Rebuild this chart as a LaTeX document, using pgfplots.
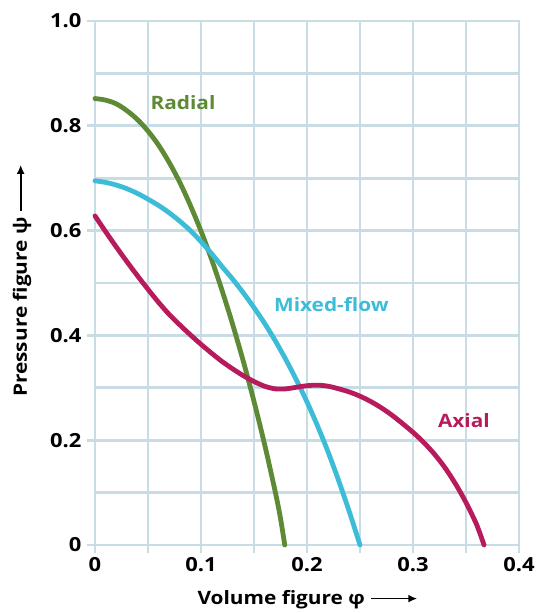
\documentclass[border=0pt]{standalone}
\usepackage{pgfplots}
\pgfplotsset{compat=1.18}
\usepackage{fontspec}
\setmainfont{Open Sans}[FakeStretch=1.13]
\usetikzlibrary{arrows.meta}
\definecolor{gridc}{HTML}{C8DCE6}
\definecolor{radc}{HTML}{5E8A36}
\definecolor{mixc}{HTML}{3DBCD8}
\definecolor{axc}{HTML}{B81B5C}
\newcommand{\longarr}{\tikz[baseline=-0.62ex]\draw[line width=1.8pt,-{Latex[length=9pt,width=8pt]}] (0,0)--(46bp,0);}
\begin{document}
\begin{tikzpicture}
\begin{axis}[
  name=main,
  scale only axis,
  width=424bp, height=524bp,
  xmin=0, xmax=0.4, ymin=0, ymax=1.0,
  xtick={0,0.05,...,0.41},
  xticklabels={0,,0.1,,0.2,,0.3,,0.4},
  ytick={0,0.2,0.4,0.6,0.8,1.0},
  yticklabels={0,0.2,0.4,0.6,0.8,1.0},
  minor ytick={0.1,0.3,0.5,0.7,0.9},
  grid=both,
  major grid style={gridc, line width=2.8bp},
  minor grid style={gridc, line width=2.8bp},
  axis line style={gridc, line width=2.8bp},
  tick style={gridc, line width=2.8bp},
  major tick length=8bp,
  minor tick length=0pt,
  tick align=outside,
  xtick pos=bottom, ytick pos=left,
  tick label style={font=\fontsize{19.5}{19.5}\selectfont\bfseries},
  /pgf/number format/assume math mode=true,
  xticklabel style={yshift=-1bp},
  yticklabel style={xshift=-2bp},
  xlabel={Volume figure φ \longarr},
  ylabel={Pressure figure ψ \longarr},
  label style={font=\fontsize{18.5}{18.5}\selectfont\bfseries},
  xlabel style={at={(axis description cs:0.502,0)}, anchor=center, yshift=-55bp},
  ylabel style={at={(axis description cs:-0.172,0.505)}, anchor=center},
  clip=false,
]
\addplot[radc, line width=4.8bp, smooth, line cap=round] coordinates {
(0,0.852) (0.01,0.849) (0.02,0.842) (0.03,0.829) (0.04,0.812) (0.05,0.790)
(0.06,0.763) (0.07,0.730) (0.08,0.692) (0.09,0.648) (0.10,0.599) (0.11,0.545)
(0.12,0.485) (0.13,0.420) (0.14,0.350) (0.15,0.274) (0.16,0.192) (0.17,0.102)
(0.175,0.051) (0.179,0.0)
};
\addplot[mixc, line width=4.8bp, smooth, line cap=round] coordinates {
(0,0.695) (0.01,0.692) (0.02,0.687) (0.03,0.680) (0.04,0.671) (0.05,0.660)
(0.06,0.648) (0.07,0.634) (0.08,0.618) (0.09,0.600) (0.10,0.579) (0.11,0.556)
(0.12,0.531) (0.13,0.507) (0.14,0.481) (0.15,0.453) (0.16,0.423) (0.17,0.390)
(0.18,0.354) (0.19,0.315) (0.20,0.273) (0.21,0.227) (0.22,0.177) (0.23,0.122)
(0.24,0.063) (0.25,0.0)
};
\addplot[axc, line width=4.8bp, smooth, line cap=round] coordinates {
(0,0.628) (0.01,0.598) (0.02,0.569) (0.03,0.541) (0.04,0.514) (0.05,0.488)
(0.06,0.463) (0.07,0.440) (0.08,0.420) (0.09,0.401) (0.10,0.383) (0.11,0.366)
(0.12,0.350) (0.13,0.336) (0.14,0.323) (0.15,0.312) (0.16,0.303) (0.17,0.298)
(0.18,0.298) (0.19,0.301) (0.20,0.304) (0.21,0.305) (0.22,0.303) (0.23,0.298)
(0.24,0.292) (0.25,0.284) (0.26,0.274) (0.27,0.262) (0.28,0.248) (0.29,0.232)
(0.30,0.215) (0.31,0.196) (0.32,0.174) (0.33,0.148) (0.34,0.117) (0.35,0.081)
(0.36,0.039) (0.367,0.0)
};
\node[radc, font=\fontsize{18.5}{18.5}\selectfont\bfseries] at (axis cs:0.083,0.844) {Radial};
\node[mixc, font=\fontsize{18.5}{18.5}\selectfont\bfseries] at (axis cs:0.223,0.458) {Mixed-flow};
\node[axc, font=\fontsize{18.5}{18.5}\selectfont\bfseries] at (axis cs:0.348,0.237) {Axial};
\end{axis}
\pgfresetboundingbox
\path ([shift={(-95bp,-68bp)}]main.south west) rectangle ([shift={(19bp,21bp)}]main.north east);
\end{tikzpicture}
\end{document}
